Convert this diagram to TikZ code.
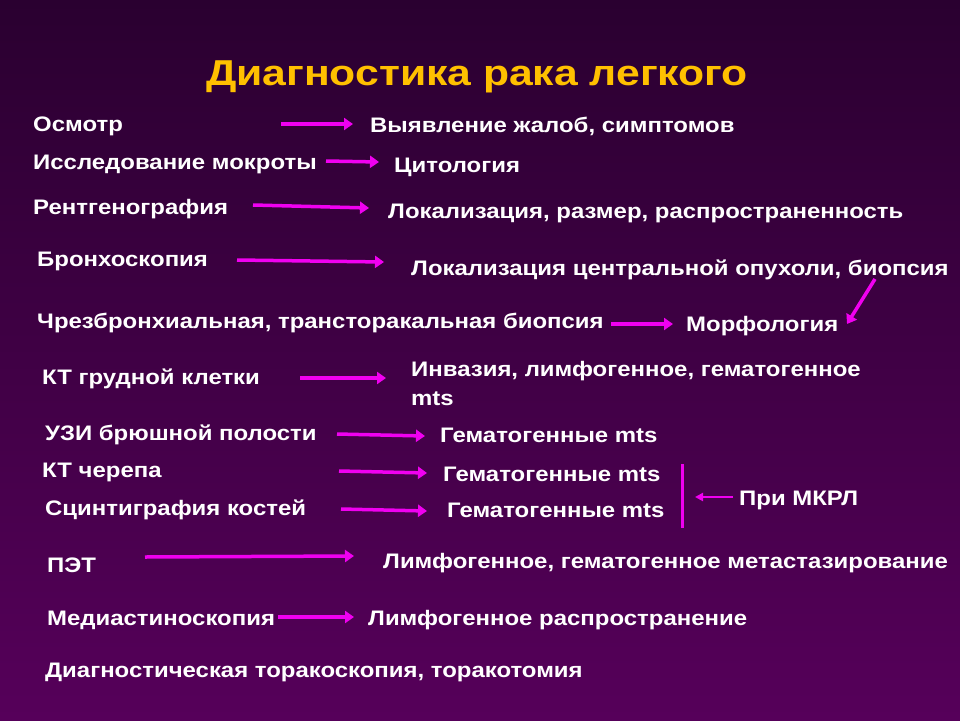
\documentclass[tikz,border=0pt]{standalone}
\usepackage{fontspec}
\setmainfont{Liberation Sans}
\newfontfamily\bodyfont{Liberation Sans}[FakeStretch=1.14]
\newfontfamily\titlefont{Liberation Sans}[FakeStretch=1.185]
\usetikzlibrary{arrows.meta}
\definecolor{bgtop}{RGB}{42,0,48}
\definecolor{bgbot}{RGB}{86,0,90}
\definecolor{titlecol}{RGB}{255,192,0}
\definecolor{arrcol}{RGB}{240,0,240}
\begin{document}
\begin{tikzpicture}[x=1pt,y=-1pt,
  txt/.style={anchor=base west,inner sep=0pt,text=white,font=\bodyfont\fontsize{21}{24}\selectfont\bfseries},
  arr/.style={draw=arrcol,line width=3.5pt,-{Triangle[length=9pt,width=12pt]}},
  bar/.style={draw=arrcol,line width=3pt}]
\shade[top color=bgtop,bottom color=bgbot] (0,0) rectangle (960,720);
\useasboundingbox (0,0) rectangle (960,720);
\node[anchor=base,inner sep=0pt,text=titlecol,font=\titlefont\fontsize{36}{40}\selectfont\bfseries] (title) at (477,85) {Диагностика рака легкого};

\node[txt] (l1) at (33,131) {Осмотр};
\node[txt] (r1) at (370,132) {Выявление жалоб, симптомов};
\coordinate (a1s) at (281,124); \coordinate (a1e) at (353,124);
\draw[arr] (a1s) -- (a1e);

\node[txt] (l2) at (33,169) {Исследование мокроты};
\node[txt] (r2) at (394,172) {Цитология};
\coordinate (a2s) at (326,161); \coordinate (a2e) at (379,162);
\draw[arr] (a2s) -- (a2e);

\node[txt] (l3) at (33,214) {Рентгенография};
\node[txt] (r3) at (388,218) {Локализация, размер, распространенность};
\coordinate (a3s) at (253,205); \coordinate (a3e) at (369,208);
\draw[arr] (a3s) -- (a3e);

\node[txt] (l4) at (37,266) {Бронхоскопия};
\node[txt] (r4) at (411,275) {Локализация центральной опухоли, биопсия};
\coordinate (a4s) at (237,260); \coordinate (a4e) at (384,262);
\draw[arr] (a4s) -- (a4e);
\coordinate (a5s) at (875,279); \coordinate (a5e) at (847,324);
\draw[arr] (a5s) -- (a5e);

\node[txt] (l5) at (37,328) {Чрезбронхиальная, трансторакальная биопсия};
\node[txt] (r5) at (686,331) {Морфология};
\coordinate (a6s) at (611,324); \coordinate (a6e) at (673,324);
\draw[arr] (a6s) -- (a6e);

\node[txt] (l6) at (42,384) {КТ грудной клетки};
\node[txt] (r6) at (411,376) {Инвазия, лимфогенное, гематогенное};
\node[txt] (r6b) at (411,405) {mts};
\coordinate (a7s) at (300,378); \coordinate (a7e) at (386,378);
\draw[arr] (a7s) -- (a7e);

\node[txt] (l7) at (45,440) {УЗИ брюшной полости};
\node[txt] (r7) at (440,442) {Гематогенные mts};
\coordinate (a8s) at (337,434); \coordinate (a8e) at (425,436);
\draw[arr] (a8s) -- (a8e);

\node[txt] (l8) at (42,477) {КТ черепа};
\node[txt] (r8) at (443,481) {Гематогенные mts};
\coordinate (a9s) at (339,471); \coordinate (a9e) at (427,473);
\draw[arr] (a9s) -- (a9e);

\node[txt] (l9) at (45,515) {Сцинтиграфия костей};
\node[txt] (r9) at (447,517) {Гематогенные mts};
\coordinate (a10s) at (341,509); \coordinate (a10e) at (427,511);
\draw[arr] (a10s) -- (a10e);

\coordinate (bt) at (682,464); \coordinate (bb) at (682,528);
\draw[bar] (bt) -- (bb);
\node[txt] (mkrl) at (739,505) {При МКРЛ};
\coordinate (a11s) at (733,497); \coordinate (a11e) at (695,497);
\draw[arr,line width=2.2pt,-{Triangle[length=8pt,width=8pt]}] (a11s) -- (a11e);

\node[txt] (l10) at (47,572) {ПЭТ};
\node[txt] (r10) at (383,568) {Лимфогенное, гематогенное метастазирование};
\coordinate (a12s) at (145,557); \coordinate (a12e) at (354,556);
\draw[arr] (a12s) -- (a12e);

\node[txt] (l11) at (47,625) {Медиастиноскопия};
\node[txt] (r11) at (368,625) {Лимфогенное распространение};
\coordinate (a13s) at (278,617); \coordinate (a13e) at (354,617);
\draw[arr] (a13s) -- (a13e);

\node[txt] (l12) at (45,677) {Диагностическая торакоскопия, торакотомия};
\end{tikzpicture}
\end{document}
